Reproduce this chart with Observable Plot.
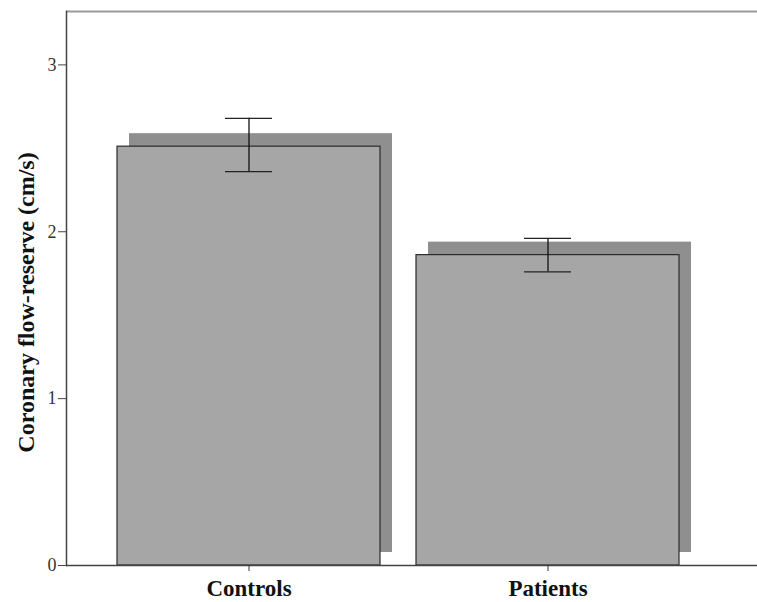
<!DOCTYPE html>
<html>
<head>
<meta charset="utf-8">
<script src="https://cdn.jsdelivr.net/npm/d3@7"></script>
<script src="https://cdn.jsdelivr.net/npm/@observablehq/plot@0.6"></script>
<style>
  body { margin: 0; background: #fff; }
  #chart svg { display: block; }
</style>
</head>
<body>
<div id="chart"></div>
<script>
// Group means with error-bar limits
const groups = ["Controls", "Patients"];
const means = [2.51, 1.86];
const lower = [2.36, 1.76];
const upper = [2.68, 1.96];
const yTicks = [0, 1, 2, 3];
const yTitle = "Coronary flow-reserve (cm/s)";

const data = groups.map((g, i) => ({ group: g, mean: means[i], lo: lower[i], hi: upper[i] }));

const serif = "'Liberation Serif', 'Times New Roman', serif";

const chart = Plot.plot({
  width: 757,
  height: 602,
  marginTop: 11,
  marginBottom: 37,
  marginLeft: 66,
  marginRight: 0,
  style: { fontFamily: serif, background: "#fff" },
  x: { domain: groups, range: [66, 731.4], paddingInner: 0.119, paddingOuter: 0.172 },
  y: { domain: [0, 3.32] },
  marks: [
    // drop shadow behind each bar
    Plot.barY(data, { x: "group", y: "mean", fill: "#8f8f8f", dx: 12, dy: -13 }),
    Plot.barY(data, { x: "group", y: "mean", fill: "#a6a6a6", stroke: "#2a2a2a", strokeWidth: 1.2 }),
    // error bars
    Plot.ruleX(data, { x: "group", y1: "lo", y2: "hi", stroke: "#111", strokeWidth: 1.3 }),
    Plot.tickY(data, { x: "group", y: "lo", stroke: "#222", strokeWidth: 1.3, insetLeft: 108, insetRight: 108 }),
    Plot.tickY(data, { x: "group", y: "hi", stroke: "#222", strokeWidth: 1.3, insetLeft: 108, insetRight: 108 }),
    // frame lines
    Plot.ruleY([3.32], { stroke: "#999", strokeWidth: 2 }),
    Plot.frame({ anchor: "left", stroke: "#444", strokeWidth: 1.5 }),
    Plot.ruleY([0], { stroke: "#444", strokeWidth: 1.5 }),
    Plot.axisY({
      ticks: yTicks, tickSize: 8, tickPadding: 2, tickFormat: d => String(d),
      fontSize: 18, label: null, stroke: "#444", color: "#333"
    }),
    Plot.axisX({
      tickSize: 6, tickPadding: 8, fontSize: 23, fontWeight: "bold", label: null, color: "#111", stroke: "#333"
    }),
    Plot.text([yTitle], {
      frameAnchor: "left", textAnchor: "middle", rotate: -90, dx: -40, dy: 14,
      fontSize: 24, fontWeight: "bold", fill: "#111"
    })
  ]
});

document.getElementById("chart").append(chart);
</script>
</body>
</html>
